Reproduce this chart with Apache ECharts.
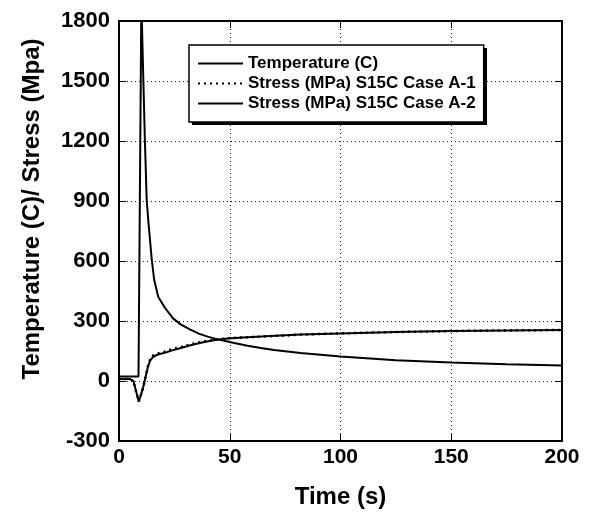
<!DOCTYPE html>
<html>
<head>
<meta charset="utf-8">
<script src="https://cdn.jsdelivr.net/npm/echarts@6/dist/echarts.min.js"></script>
<style>
  html, body { margin: 0; padding: 0; background: #fff; }
  #chart { width: 593px; height: 516px; }
</style>
</head>
<body>
<div id="chart"></div>
<script>
// values
const tempTime = [0, 8.8, 10.1, 11, 11.7, 12.5, 13.2, 14, 14.8, 15.9, 17.7, 20.8, 24.5, 28, 32, 36, 40, 45, 52, 58, 64, 70, 82, 100, 125, 150, 175, 200]
const tempVals = [22, 22, 1900, 1500, 1200, 905, 805, 705, 605, 505, 421, 365, 312, 282, 258, 237, 222, 207, 190, 176, 165, 155, 140, 122, 104, 92, 84, 77]

const stressTime = [0, 5, 6.5, 7.8, 8.9, 9.6, 10.8, 12, 13.1, 14, 15.3, 17, 18.4, 21, 23.6, 28, 32.7, 38, 43.2, 49, 56, 64, 82, 100, 125, 150, 175, 200]
const stressA1 = [10, 10, 0, -55, -103, -80, -37, 22, 76, 106, 127, 136, 141, 148, 158, 170, 185, 197, 206, 213, 218, 222, 232, 238, 245, 250, 253, 255]
const stressA2 = [10, 10, 0, -55, -103, -80, -37, 20, 72, 100, 120, 130, 135, 142, 152, 165, 180, 194, 205, 213, 218, 222, 232, 238, 245, 250, 253, 255]

const xTicks = { min: 0, max: 200, interval: 50 }
const yTicks = { min: -300, max: 1800, interval: 300 }

const seriesNames = ['Temperature (C)', 'Stress (MPa) S15C Case A-1', 'Stress (MPa) S15C Case A-2']

const font = '"Liberation Sans", Arial, sans-serif'
const pair = (xs, ys) => xs.map((x, i) => [x, ys[i]])

const chart = echarts.init(document.getElementById('chart'), null, { renderer: 'canvas' })

const gridDots = { show: true, lineStyle: { color: '#222', width: 1, type: [1, 3] } }
const frameLine = { show: true, onZero: false, lineStyle: { color: '#000', width: 2 } }
const tick = { show: true, inside: true, length: 7, lineStyle: { color: '#000', width: 1 } }

chart.setOption({
  backgroundColor: '#fff',
  animation: false,
  textStyle: { fontFamily: font },
  grid: { left: 119, right: 31, top: 21, bottom: 75, show: true, borderColor: '#000', borderWidth: 2 },
  xAxis: [
    {
      type: 'value',
      ...xTicks,
      position: 'bottom',
      axisLine: frameLine,
      axisTick: tick,
      splitLine: gridDots,
      axisLabel: { fontSize: 21, fontWeight: 'bold', color: '#000', margin: 6, fontFamily: font },
      name: 'Time (s)',
      nameLocation: 'middle',
      nameGap: 44,
      nameTextStyle: { fontSize: 24, fontWeight: 'bold', color: '#000', fontFamily: font }
    },
    {
      type: 'value',
      ...xTicks,
      position: 'top',
      axisLine: frameLine,
      axisTick: tick,
      splitLine: { show: false },
      axisLabel: { show: false }
    }
  ],
  yAxis: [
    {
      type: 'value',
      ...yTicks,
      position: 'left',
      axisLine: frameLine,
      axisTick: tick,
      splitLine: gridDots,
      axisLabel: {
        fontSize: 22,
        fontWeight: 'bold',
        color: '#000',
        margin: 9,
        fontFamily: font,
        formatter: (v) => String(v)
      }
    },
    {
      type: 'value',
      ...yTicks,
      position: 'right',
      axisLine: frameLine,
      axisTick: tick,
      splitLine: { show: false },
      axisLabel: { show: false }
    }
  ],
  graphic: [
    {
      type: 'text',
      x: 32,
      y: 209,
      rotation: Math.PI / 2,
      style: {
        text: 'Temperature (C)/ Stress (Mpa)',
        font: 'bold 24px ' + font,
        fill: '#000',
        align: 'center',
        verticalAlign: 'middle'
      }
    },
    // drop shadow behind the legend box
    {
      type: 'rect',
      z: 3,
      shape: { x: 192, y: 48, width: 295, height: 77 },
      style: { fill: '#000' }
    }
  ],
  legend: {
    orient: 'vertical',
    left: 189,
    top: 45,
    z: 5,
    padding: [10, 8, 10, 8],
    itemWidth: 45,
    itemHeight: 14,
    itemGap: 3,
    backgroundColor: '#fff',
    borderColor: '#000',
    borderWidth: 1.5,
    borderRadius: 0,
    itemStyle: { opacity: 0 },
    textStyle: { fontSize: 17, fontWeight: 'bold', color: '#000', fontFamily: font, lineHeight: 17 },
    data: seriesNames
  },
  series: [
    {
      name: seriesNames[0],
      type: 'line',
      data: pair(tempTime, tempVals),
      symbol: 'none',
      clip: true,
      lineStyle: { color: '#000', width: 2 },
      itemStyle: { color: '#000' }
    },
    {
      name: seriesNames[2],
      type: 'line',
      data: pair(stressTime, stressA2),
      symbol: 'none',
      lineStyle: { color: '#000', width: 2 },
      itemStyle: { color: '#000' }
    },
    {
      name: seriesNames[1],
      type: 'line',
      data: pair(stressTime, stressA1),
      symbol: 'none',
      z: 3,
      lineStyle: { color: '#000', width: 2.5, type: [2, 4] },
      itemStyle: { color: '#000' }
    }
  ]
})
</script>
</body>
</html>
